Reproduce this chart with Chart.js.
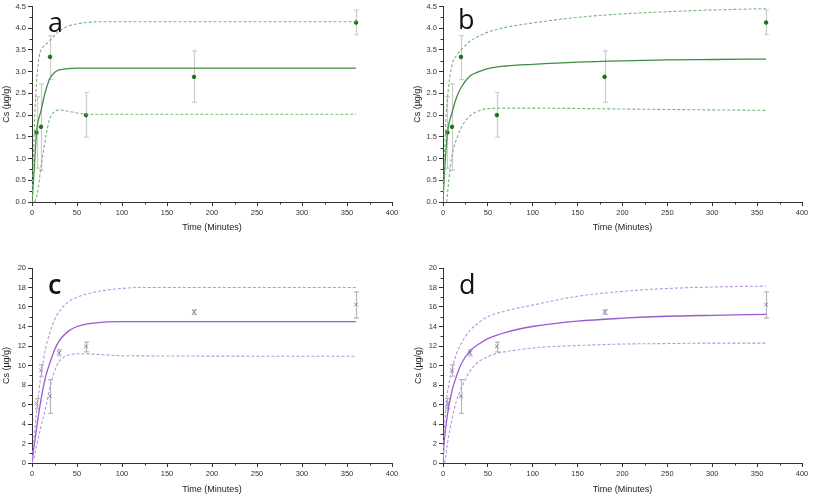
<!DOCTYPE html>
<html>
<head>
<meta charset="utf-8">
<script src="https://cdn.jsdelivr.net/npm/chart.js@4.4.1/dist/chart.umd.min.js"></script>
<style>
  html, body { margin:0; padding:0; background:#fff; }
  body { width:813px; height:500px; position:relative; overflow:hidden; font-family:"Liberation Sans", Arial, sans-serif; }
  .panel { position:absolute; }
  .tag { position:absolute; font-family:"Open Sans", "Liberation Sans", sans-serif; font-size:27px; color:#111; line-height:1; }
</style>
</head>
<body>
<div class="panel" style="left:0;top:0;width:405px;height:240px"><canvas id="chA" width="405" height="240"></canvas></div>
<div class="panel" style="left:405px;top:0;width:408px;height:240px"><canvas id="chB" width="408" height="240"></canvas></div>
<div class="panel" style="left:0;top:250px;width:405px;height:250px"><canvas id="chC" width="405" height="250"></canvas></div>
<div class="panel" style="left:405px;top:250px;width:408px;height:250px"><canvas id="chD" width="408" height="250"></canvas></div>
<div class="tag" style="left:48px;top:8px">a</div>
<div class="tag" style="left:458px;top:5px">b</div>
<div class="tag" style="left:48px;top:270px;font-weight:600">c</div>
<div class="tag" style="left:459px;top:270px">d</div>
<script>
// --- Measured data (minutes) ---
const timeAB = [5, 10, 20, 60, 180, 360];
const csAB   = [1.6, 1.73, 3.34, 2.0, 2.88, 4.13];
const loAB   = [0.78, 0.73, 2.82, 1.49, 2.3, 3.85];
const hiAB   = [2.42, 2.72, 3.83, 2.52, 3.48, 4.42];

const timeCD = [5, 10, 20, 30, 60, 180, 360];
const csCD   = [6.1, 9.5, 6.85, 11.3, 11.95, 15.5, 16.25];
const loCD   = [5.55, 8.9, 5.1, 11.0, 11.4, 15.25, 14.85];
const hiCD   = [6.6, 10.1, 8.55, 11.6, 12.4, 15.7, 17.55];

// --- Fitted curves ---
const fitA_t = [0, 2, 5, 10, 15, 20, 25, 30, 40, 50, 360];
const fitA   = [0, 0.6, 1.6, 2.1, 2.55, 2.85, 2.98, 3.04, 3.07, 3.08, 3.08];
const upA_t  = [0, 2, 4, 6, 8, 10, 15, 20, 25, 30, 40, 50, 60, 80, 360];
const upA    = [0, 1.3, 2.4, 3.0, 3.35, 3.5, 3.62, 3.72, 3.83, 3.93, 4.05, 4.1, 4.13, 4.15, 4.15];
const loA_t  = [3, 6, 10, 13, 16, 20, 25, 30, 40, 50, 60, 360];
const loA    = [0, 0.2, 0.8, 1.2, 1.58, 1.93, 2.08, 2.12, 2.09, 2.05, 2.02, 2.02];

const fitB_t = [0, 2, 5, 10, 15, 20, 30, 40, 50, 70, 100, 150, 200, 250, 300, 360];
const fitB   = [0, 0.8, 1.6, 2.05, 2.4, 2.63, 2.9, 3.0, 3.07, 3.13, 3.17, 3.22, 3.25, 3.27, 3.28, 3.29];
const upB_t  = [0, 1, 3, 6, 10, 16, 20, 30, 40, 50, 70, 100, 150, 200, 250, 300, 360];
const upB    = [0, 0.6, 1.8, 2.6, 3.15, 3.4, 3.5, 3.7, 3.82, 3.91, 4.02, 4.12, 4.25, 4.33, 4.38, 4.42, 4.45];
const loB_t  = [4, 6, 9, 12, 16, 20, 25, 30, 40, 50, 70, 100, 200, 300, 360];
const loB    = [0, 0.4, 0.95, 1.25, 1.5, 1.7, 1.87, 1.98, 2.1, 2.15, 2.16, 2.16, 2.14, 2.12, 2.11];

const fitC_t = [0, 2, 5, 10, 15, 20, 25, 30, 40, 50, 60, 80, 100, 360];
const fitC   = [0, 1.5, 3.5, 6.5, 8.8, 10.3, 11.6, 12.5, 13.5, 14.0, 14.25, 14.45, 14.5, 14.5];
const upC_t  = [0, 2, 5, 10, 15, 20, 25, 30, 40, 50, 60, 80, 100, 120, 360];
const upC    = [0, 2.2, 5.2, 9.0, 11.7, 13.4, 14.7, 15.5, 16.5, 17.0, 17.3, 17.7, 17.9, 18.0, 18.0];
const loC_t  = [0, 3, 5, 10, 15, 20, 25, 30, 40, 50, 60, 80, 100, 360];
const loC    = [0, 0.8, 1.7, 3.7, 5.6, 7.8, 9.4, 10.4, 11.05, 11.2, 11.2, 11.1, 11.0, 10.95];

const fitD_t = [0, 1, 2, 5, 10, 15, 20, 30, 40, 50, 70, 100, 150, 200, 250, 300, 360];
const fitD   = [0, 1.8, 2.8, 5.0, 7.4, 8.9, 10.1, 11.5, 12.2, 12.75, 13.4, 14.0, 14.55, 14.85, 15.05, 15.15, 15.25];
const upD_t  = [0, 1, 2, 4, 6, 10, 15, 20, 30, 40, 50, 70, 100, 150, 200, 250, 300, 360];
const upD    = [0, 2.5, 4.0, 6.5, 7.8, 9.6, 11.2, 12.2, 13.6, 14.4, 15.0, 15.6, 16.2, 17.1, 17.6, 17.9, 18.05, 18.15];
const loD_t  = [2, 5, 10, 15, 20, 30, 40, 50, 60, 80, 100, 150, 200, 250, 300, 360];
const loD    = [0, 2.0, 4.5, 6.4, 7.6, 9.4, 10.4, 10.9, 11.25, 11.55, 11.8, 12.05, 12.2, 12.25, 12.3, 12.3];

// axis ticks
const xMax = 400, xStep = 50;
const yMaxAB = 4.5, yStepAB = 0.5;
const yMaxCD = 20, yStepCD = 2;

// --- helpers ---
const xy = (ts, ys) => ts.map((t, i) => ({ x: t, y: ys[i] }));

const errorBars = {
  id: 'errorBars',
  beforeDatasetsDraw(chart, args, o) {
    if (!o || !o.t) return;
    const { ctx, scales: { x, y } } = chart;
    ctx.save();
    ctx.strokeStyle = o.color;
    ctx.lineWidth = 1.2;
    o.t.forEach((t, i) => {
      const px = Math.round(x.getPixelForValue(t)) + 0.5;
      const top = y.getPixelForValue(o.hi[i]);
      const bot = y.getPixelForValue(o.lo[i]);
      ctx.beginPath();
      ctx.moveTo(px, top); ctx.lineTo(px, bot);
      ctx.moveTo(px - 2.5, top); ctx.lineTo(px + 2.5, top);
      ctx.moveTo(px - 2.5, bot); ctx.lineTo(px + 2.5, bot);
      ctx.stroke();
    });
    ctx.restore();
  },
  afterDraw(chart) {
    // minor tick marks halfway between the labelled ones
    const { ctx, scales: { x, y } } = chart;
    ctx.save();
    ctx.strokeStyle = '#333';
    ctx.lineWidth = 1;
    ctx.beginPath();
    const xs = x.options.ticks.stepSize, ys = y.options.ticks.stepSize;
    for (let v = xs / 2; v < x.max; v += xs) {
      const px = Math.round(x.getPixelForValue(v)) + 0.5;
      ctx.moveTo(px, x.top); ctx.lineTo(px, x.top + 2.5);
    }
    for (let v = ys / 2; v < y.max; v += ys) {
      const py = Math.round(y.getPixelForValue(v)) + 0.5;
      ctx.moveTo(y.right, py); ctx.lineTo(y.right - 2.5, py);
    }
    ctx.stroke();
    ctx.restore();
  }
};

function makePanel(id, o) {
  const solid = { data: xy(o.fit[0], o.fit[1]), borderColor: o.solid, borderWidth: 1.3, pointRadius: 0, cubicInterpolationMode: 'monotone', fill: false };
  const dash = (d) => ({ data: xy(d[0], d[1]), borderColor: o.dash, borderWidth: 1.1, borderDash: [3, 2], pointRadius: 0, cubicInterpolationMode: 'monotone', fill: false });
  const points = {
    data: xy(o.pts[0], o.pts[1]), showLine: false,
    pointStyle: o.marker, pointRadius: o.marker === 'circle' ? 1.8 : 2.6, pointBorderWidth: 1,
    pointBackgroundColor: o.ptColor, pointBorderColor: o.ptColor
  };
  new Chart(document.getElementById(id), {
    type: 'line',
    data: { datasets: [dash(o.up), dash(o.lo), solid, points] },
    plugins: [errorBars],
    options: {
      responsive: false, animation: false,
      layout: { padding: { top: o.padTop, right: o.padRight, left: 0, bottom: 0 } },
      plugins: {
        legend: { display: false }, tooltip: { enabled: false },
        errorBars: { t: o.pts[0], lo: o.err[0], hi: o.err[1], color: o.errColor }
      },
      scales: {
        x: {
          type: 'linear', min: 0, max: xMax,
          afterFit: s => { s.height = o.xH; },
          border: { display: true, color: '#333', width: 1 },
          grid: { drawOnChartArea: false, drawTicks: true, tickLength: 4, color: '#333' },
          ticks: { stepSize: xStep, autoSkip: false, maxRotation: 0, padding: 2, color: '#333', font: { size: 7.5, family: 'Liberation Sans' } },
          title: { display: true, text: 'Time (Minutes)', color: '#222', font: { size: 9, family: 'Liberation Sans' }, padding: { top: 0, bottom: o.xTitlePad } }
        },
        y: {
          type: 'linear', min: 0, max: o.yMax,
          afterFit: s => { s.width = o.yW; },
          border: { display: true, color: '#333', width: 1 },
          grid: { drawOnChartArea: false, drawTicks: true, tickLength: 4, color: '#333' },
          ticks: { stepSize: o.yStep, autoSkip: false, padding: 2, color: '#333', font: { size: 7.5, family: 'Liberation Sans' },
                   callback: v => o.yMax < 10 ? v.toFixed(1) : String(v) },
          title: { display: true, text: 'Cs (µg/g)', color: '#222', font: { size: 9, family: 'Liberation Sans' }, padding: { top: o.yTitlePad, bottom: 0 } }
        }
      }
    }
  });
}

const green = { solid: '#3f8f3f', dash: '#78b678', ptColor: '#1f6f1f', errColor: '#cccccc', marker: 'circle' };
const purple = { solid: '#9a5ad2', dash: '#bb93e3', ptColor: '#9479ba', errColor: '#b8b8b8', marker: 'crossRot' };

makePanel('chA', Object.assign({}, green, {
  fit: [fitA_t, fitA], up: [upA_t, upA], lo: [loA_t, loA], pts: [timeAB, csAB], err: [loAB, hiAB],
  yMax: yMaxAB, yStep: yStepAB, padTop: 6, padRight: 13, xH: 38, yW: 32, xTitlePad: 7, yTitlePad: 1
}));
makePanel('chB', Object.assign({}, green, {
  fit: [fitB_t, fitB], up: [upB_t, upB], lo: [loB_t, loB], pts: [timeAB, csAB], err: [loAB, hiAB],
  yMax: yMaxAB, yStep: yStepAB, padTop: 6, padRight: 11, xH: 38, yW: 38, xTitlePad: 7, yTitlePad: 7
}));
makePanel('chC', Object.assign({}, purple, {
  fit: [fitC_t, fitC], up: [upC_t, upC], lo: [loC_t, loC], pts: [timeCD, csCD], err: [loCD, hiCD],
  yMax: yMaxCD, yStep: yStepCD, padTop: 18, padRight: 13, xH: 37, yW: 32, xTitlePad: 5, yTitlePad: 1
}));
makePanel('chD', Object.assign({}, purple, {
  fit: [fitD_t, fitD], up: [upD_t, upD], lo: [loD_t, loD], pts: [timeCD, csCD], err: [loCD, hiCD],
  yMax: yMaxCD, yStep: yStepCD, padTop: 18, padRight: 11, xH: 37, yW: 38, xTitlePad: 5, yTitlePad: 8
}));
</script>
</body>
</html>
